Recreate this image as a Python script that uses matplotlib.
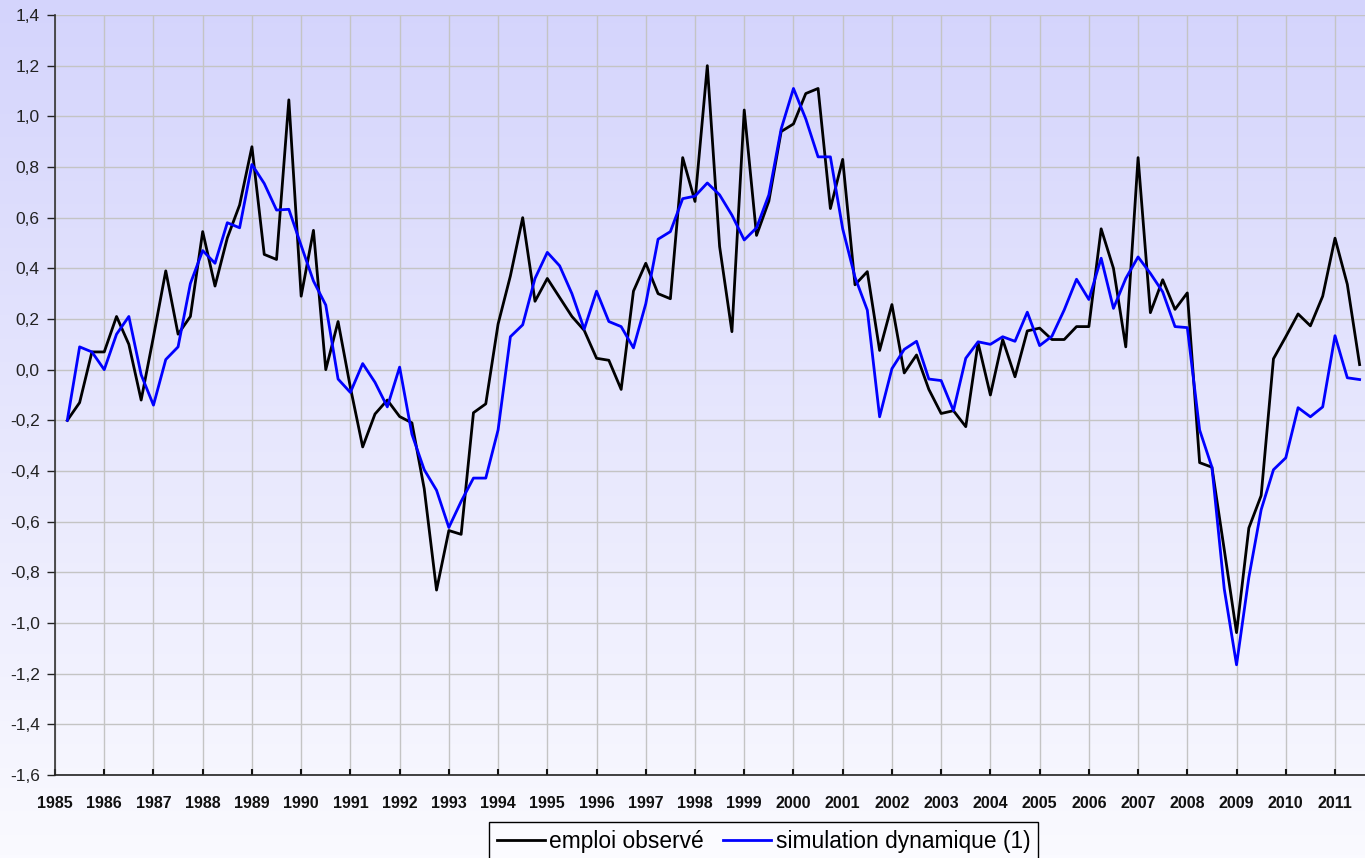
import numpy as np
import matplotlib
matplotlib.use("Agg")
import matplotlib.pyplot as plt
from matplotlib.colors import LinearSegmentedColormap
from matplotlib.ticker import FuncFormatter

# quarterly data, 1985Q2 to 2011Q3
start_year = 1985
start_quarter = 2

emploi_observe = [
    -0.20, -0.13, 0.07,
    0.07, 0.21, 0.10, -0.12,
    0.13, 0.39, 0.14, 0.21,
    0.545, 0.33, 0.52, 0.65,
    0.88, 0.455, 0.435, 1.065,
    0.29, 0.55, 0.00, 0.19,
    -0.07, -0.305, -0.175, -0.12,
    -0.185, -0.21, -0.47, -0.87,
    -0.635, -0.65, -0.17, -0.135,
    0.18, 0.37, 0.60, 0.27,
    0.36, 0.285, 0.21, 0.155,
    0.045, 0.037, -0.078, 0.31,
    0.42, 0.30, 0.28, 0.837,
    0.664, 1.20, 0.486, 0.15,
    1.025, 0.53, 0.665, 0.94,
    0.97, 1.09, 1.11, 0.636,
    0.83, 0.335, 0.387, 0.076,
    0.257, -0.013, 0.058, -0.078,
    -0.173, -0.162, -0.225, 0.106,
    -0.10, 0.119, -0.028, 0.153,
    0.164, 0.119, 0.119, 0.17,
    0.17, 0.556, 0.40, 0.09,
    0.837, 0.225, 0.355, 0.238,
    0.303, -0.367, -0.385, -0.71,
    -1.038, -0.625, -0.497, 0.043,
    0.13, 0.22, 0.173, 0.29,
    0.519, 0.337, 0.02,
]

simulation_dynamique = [
    -0.20, 0.09, 0.07,
    0.00, 0.14, 0.21, -0.02,
    -0.14, 0.04, 0.09, 0.34,
    0.47, 0.42, 0.58, 0.56,
    0.81, 0.735, 0.63, 0.633,
    0.49, 0.35, 0.255, -0.037,
    -0.09, 0.024, -0.05, -0.147,
    0.01, -0.255, -0.395, -0.476,
    -0.623, -0.52, -0.428, -0.428,
    -0.238, 0.13, 0.177, 0.36,
    0.463, 0.41, 0.30, 0.16,
    0.31, 0.19, 0.17, 0.086,
    0.26, 0.515, 0.545, 0.675,
    0.685, 0.737, 0.69, 0.61,
    0.512, 0.56, 0.69, 0.95,
    1.11, 0.99, 0.84, 0.84,
    0.556, 0.365, 0.235, -0.186,
    0.004, 0.08, 0.112, -0.037,
    -0.043, -0.162, 0.045, 0.11,
    0.10, 0.13, 0.112, 0.227,
    0.095, 0.132, 0.236, 0.357,
    0.277, 0.44, 0.242, 0.36,
    0.445, 0.38, 0.307, 0.17,
    0.166, -0.238, -0.385, -0.865,
    -1.165, -0.82, -0.553, -0.395,
    -0.348, -0.15, -0.186, -0.147,
    0.134, -0.032, -0.039,
]

years = list(range(1985, 2012))
labels = ["emploi observé", "simulation dynamique (1)"]

n = len(emploi_observe)
t = start_year + (start_quarter - 1) / 4 + np.arange(n) / 4

fig = plt.figure(figsize=(13.65, 8.58), dpi=100)

# background gradient over the whole figure
bg = fig.add_axes([0, 0, 1, 1], zorder=-10)
grad = LinearSegmentedColormap.from_list("bg", ["#fafaff", "#d4d4fc"])
bg.imshow(np.linspace(0, 1, 256).reshape(-1, 1), aspect="auto", cmap=grad,
          origin="lower", extent=[0, 1, 0, 1])
bg.set_axis_off()

ax = fig.add_axes([55 / 1365, 1 - 775 / 858, 1310 / 1365, 760 / 858])
ax.patch.set_alpha(0)

ax.plot(t, emploi_observe, color="black", lw=2.0, label=labels[0], zorder=3)
ax.plot(t, simulation_dynamique, color="#0000ff", lw=2.0, label=labels[1], zorder=4)

ax.set_xlim(1985, 1985 + 1310 / (1280 / 26))
ax.set_ylim(-1.6, 1.4)
ax.set_yticks(np.arange(-1.6, 1.41, 0.2))
ax.yaxis.set_major_formatter(FuncFormatter(lambda v, p: f"{v:.1f}".replace(".", ",").replace("-0,0", "0,0")))
ax.set_xticks(years)
ax.set_xticklabels([str(y) for y in years])

ax.grid(True, color="#c4c4c4", lw=1.0)
ax.set_axisbelow(True)
for s in ["top", "right"]:
    ax.spines[s].set_visible(False)
ax.spines["left"].set_color("#333333")
ax.spines["bottom"].set_color("#222222")
ax.spines["left"].set_linewidth(1.2)
ax.spines["bottom"].set_linewidth(1.2)

ax.tick_params(axis="y", direction="out", length=6, width=1, labelsize=12.5,
               colors="#222222", pad=5)
ax.tick_params(axis="x", direction="in", length=4, width=1.5, labelsize=11.5,
               colors="#111111", pad=15)
for lab in ax.get_xticklabels():
    lab.set_family(["Liberation Sans", "DejaVu Sans"])
    lab.set_fontweight("bold")
for lab in ax.get_yticklabels():
    lab.set_family(["Liberation Sans", "DejaVu Sans"])

leg = fig.legend(loc="upper left", bbox_to_anchor=(489 / 1365, 1 - 822 / 858),
                 ncol=2, frameon=True, fancybox=False,
                 prop={"family": ["Liberation Sans", "DejaVu Sans"], "size": 16.4},
                 handlelength=2.1, handletextpad=0.2, columnspacing=0.85,
                 borderpad=0.35, borderaxespad=0)
leg.get_frame().set_edgecolor("black")
leg.get_frame().set_linewidth(1.0)
leg.get_frame().set_facecolor("#fbfbff")
leg.get_frame().set_alpha(1)

fig.savefig("out.png", dpi=100)
